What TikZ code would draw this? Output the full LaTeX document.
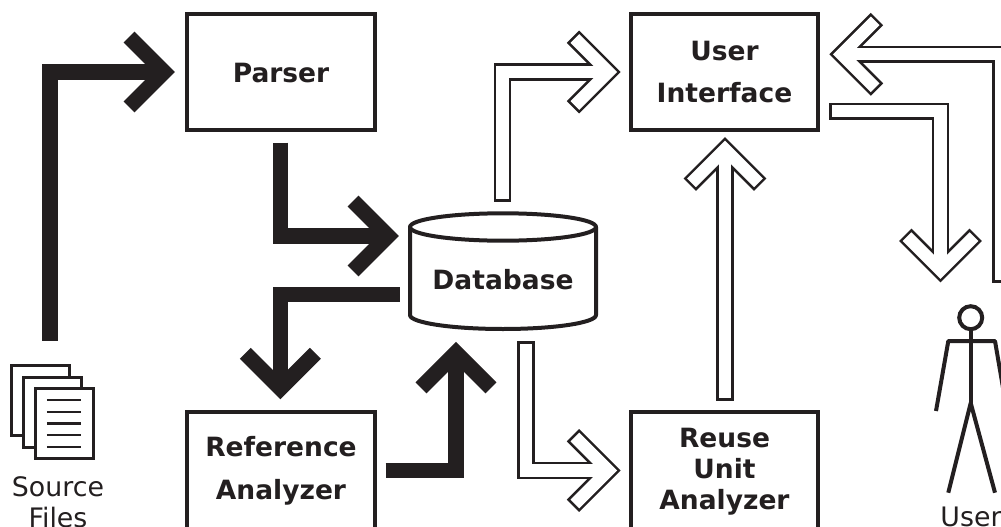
\documentclass[tikz,border=0pt]{standalone}
\usepackage{fontspec}
\setmainfont{DejaVu Sans}
\definecolor{ink}{HTML}{231F20}
% head centre-line: tip (#1), direction (#2,#3), apex offset #4, arm length #5
\newcommand\headline[5]{(#1) ++({-(#4+#5)*(#2)-(#5)*(#3)},{-(#4+#5)*(#3)+(#5)*(#2)}) -- ++({(#5)*(#2)+(#5)*(#3)},{(#5)*(#3)-(#5)*(#2)}) -- ++({-(#5)*(#2)+(#5)*(#3)},{-(#5)*(#3)-(#5)*(#2)})}
% #1 path, #2 tip, #3 #4 direction
\newcommand\solidconn[4]{%
  \draw[solidline,shorten >=12] #1;
  \draw[solidline] \headline{#2}{#3}{#4}{11}{35};
}
\newcommand\hollowconn[4]{%
  \draw[hollowouter,shorten >=21.15] #1;
  \draw[hollowouter] \headline{#2}{#3}{#4}{12.4}{29.1};
  \draw[hollowinner,shorten >=21.15] #1;
  \draw[hollowinner] \headline{#2}{#3}{#4}{12.4}{29.1};
}
\tikzset{
  boxnode/.style={draw=ink,line width=4,rectangle,inner sep=0pt,fill=white,text=ink,align=center,
    font=\fontsize{26.5}{31.3}\selectfont\bfseries},
  boxtext/.style={text=ink,align=center,inner sep=0pt,font=\fontsize{26.5}{31.3}\selectfont\bfseries},
  plaintext/.style={text=ink,align=center,inner sep=0pt,font=\fontsize{26.8}{31.3}\selectfont},
  sheetnode/.style={draw=ink,line width=3,rectangle,inner sep=0pt,fill=white,minimum width=58,minimum height=70},
  sheetline/.style={draw=ink,line width=2.3},
  dbline/.style={draw=ink,line width=4,line join=round},
  solidline/.style={draw=ink,line width=15.5,miter limit=10},
  hollowouter/.style={draw=ink,line width=17.5,line cap=rect,miter limit=10},
  hollowinner/.style={draw=white,line width=12.3,line cap=rect,miter limit=10},
  figline/.style={draw=ink,line width=4,line join=round}
}
\begin{document}
\begin{tikzpicture}[x=1pt,y=-1pt]
\useasboundingbox (0,0) rectangle (1001,527);
\clip (0,0) rectangle (1001,527);

% boxes
\node[boxnode,minimum width=188,minimum height=116,label={[boxtext,yshift=-1.5]center:Parser}] (parser) at (281,72) {};
\node[boxnode,minimum width=187,minimum height=116] (ui) at (724.5,72) {User\\[11.4pt]Interface};
\node[boxnode,minimum width=188,minimum height=120,label={[boxtext,yshift=1.5]center:Reference\\[11.4pt]Analyzer}] (ref) at (281,472) {};
\node[boxnode,minimum width=187,minimum height=120,label={[boxtext,yshift=0.5]center:Reuse\\Unit\\Analyzer}] (reuse) at (724.5,472) {};

% database
\node[boxtext,minimum width=186,minimum height=102] (db) at (503,280) {Database};
\draw[dbline] ([shift={(0,-53)}]db.center) ellipse [x radius=93pt,y radius=13.7pt];
\draw[dbline] ([shift={(-93,-53)}]db.center) -- ([shift={(-93,35)}]db.center)
  arc [start angle=180,end angle=360,x radius=93pt,y radius=14pt] -- ([shift={(93,-53)}]db.center);

% source files
\node[sheetnode] (sheet1) at (40.5,400.2) {};
\node[sheetnode] (sheet2) at (52,412) {};
\node[sheetnode] (sheet3) at (64,423.5) {};
\foreach \yy/\nm in {-23.5/l1,-11.8/l2,0/l3,11.7/l4,23.4/l5}{
  \draw[sheetline] ([shift={(-17.2,\yy)}]sheet3.center) -- ([shift={(17.2,\yy)}]sheet3.center);
}
\node[plaintext] (srclabel) at (58,502) {Source\\Files};

% user figure
\node[draw=ink,line width=4,circle,inner sep=0pt,minimum size=23] (head) at (970.7,317.7) {};
\coordinate (hip) at (970.7,403);
\draw[figline] (head.south) -- (hip);
\draw[figline] (936,411) -- (948.3,341) -- (995,341) -- (1007,411);
\draw[figline] (948.3,492.7) -- (hip) -- (995,492.7);
\node[plaintext,anchor=base] (userlabel) at (971,526) {User};

% solid connectors
\coordinate (a1s) at ([shift={(9.5,-23)}]sheet1.north);
\coordinate (a1t) at ([shift={(-10,0)}]parser.west);
\solidconn{(a1s) |- (a1t)}{a1t}{1}{0}
\coordinate (a2s) at ([shift={(-0.7,10.7)}]parser.south);
\coordinate (a2t) at ([shift={(-10.8,-44)}]db.west);
\solidconn{(a2s) |- (a2t)}{a2t}{1}{0}
\coordinate (a3s) at ([shift={(-10.2,14.5)}]db.west);
\coordinate (a3t) at ([shift={(-0.7,-10.7)}]ref.north);
\solidconn{(a3s) -| (a3t)}{a3t}{0}{1}
\coordinate (a4s) at ([shift={(8.7,-1.7)}]ref.east);
\coordinate (a4t) at ([shift={(-47,10.7)}]db.south);
\solidconn{(a4s) -| (a4t)}{a4t}{0}{-1}

% hollow connectors
\coordinate (b1s) at ([shift={(-0.5,-36)}]db.north);
\coordinate (b1t) at ([shift={(-8.3,0)}]ui.west);
\hollowconn{(b1s) |- (b1t)}{b1t}{1}{0}
\coordinate (b2s) at ([shift={(23,18.75)}]db.south);
\coordinate (b2t) at ([shift={(-8.3,-1.5)}]reuse.west);
\hollowconn{(b2s) |- (b2t)}{b2t}{1}{0}
\coordinate (b3s) at ([shift={(0.5,-18)}]reuse.north);
\coordinate (b3t) at ([shift={(0.5,5)}]ui.south);
\hollowconn{(b3s) -- (b3t)}{b3t}{0}{-1}
\coordinate (b4s) at ([shift={(30,-30.15)}]head.north);
\coordinate (b4t) at ([shift={(9.3,-17.7)}]ui.east);
\hollowconn{(b4s) |- (b4t)}{b4t}{-1}{0}
\coordinate (b5s) at ([shift={(18,39.3)}]ui.east);
\coordinate (b5t) at ([shift={(-30.2,-21.7)}]head.north);
\hollowconn{(b5s) -| (b5t)}{b5t}{0}{1}
\end{tikzpicture}
\end{document}
